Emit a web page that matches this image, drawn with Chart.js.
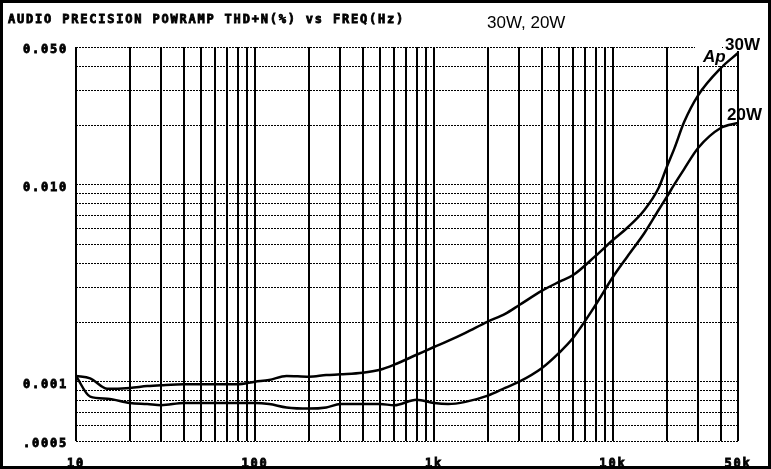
<!DOCTYPE html>
<html>
<head>
<meta charset="utf-8">
<script src="https://cdn.jsdelivr.net/npm/chart.js@4.4.1/dist/chart.umd.min.js"></script>
<style>
  html, body { margin: 0; padding: 0; background: #fff; }
</style>
</head>
<body>
<canvas id="thd" width="771" height="469"></canvas>
<script>
// frequency points (Hz)
const freqs = [10, 12, 15, 20, 25, 30, 40, 50, 60, 80, 100, 120, 150, 200, 250, 300, 400, 500, 600, 800,
  1000, 1200, 1500, 2000, 2500, 3000, 4000, 5000, 6000, 8000, 10000, 12000, 15000, 18000, 20000, 22000,
  25000, 30000, 40000, 50000];
// THD+N (%) at 30W
const thd30W = [0.00107, 0.00104, 0.00092, 0.00093, 0.00095, 0.00096, 0.00097, 0.00097, 0.00097, 0.00097,
  0.00100, 0.00102, 0.00107, 0.00106, 0.00108, 0.00109, 0.00111, 0.00115, 0.00122, 0.00137,
  0.00150, 0.00161, 0.00177, 0.00202, 0.00221, 0.00245, 0.00289, 0.00321, 0.00348, 0.00435,
  0.00524, 0.00603, 0.00744, 0.00962, 0.0123, 0.0152, 0.0208, 0.0285, 0.0390, 0.0466];
// THD+N (%) at 20W
const thd20W = [0.00107, 0.00084, 0.00082, 0.00078, 0.00077, 0.00076, 0.00078, 0.00078, 0.00078, 0.00078,
  0.00078, 0.00077, 0.00074, 0.00073, 0.00074, 0.00077, 0.00077, 0.00077, 0.00076, 0.00081,
  0.00078, 0.00077, 0.00079, 0.00085, 0.00093, 0.00100, 0.00117, 0.00140, 0.00167, 0.00245,
  0.00340, 0.00430, 0.00569, 0.00744, 0.00867, 0.0100, 0.0120, 0.0154, 0.0194, 0.0206];

// labelled ticks
const xLabelValues = [10, 100, 1000, 10000, 50000];
const xLabelTexts = ['10', '100', '1k', '10k', '50k'];
const yLabelValues = [0.05, 0.01, 0.001, 0.0005];
const yLabelTexts = ['0.050', '0.010', '0.001', '.0005'];

// grid lines: 1..9 in each decade
let xGrid = [];
[10, 100, 1000].forEach(d => { for (let m = 1; m < 10; m++) xGrid.push(d * m); });
xGrid = xGrid.concat([10000, 20000, 30000, 40000, 50000]);
let yGrid = [];
[0.0001, 0.001].forEach(d => { for (let m = 1; m < 10; m++) yGrid.push(d * m); });
yGrid = yGrid.filter(v => v >= 0.0005 - 1e-9).concat([0.01, 0.02, 0.03, 0.04, 0.05]);

function pick(values, texts, v) {
  const i = values.findIndex(a => Math.abs(a - v) / a < 1e-6);
  return i >= 0 ? texts[i] : '';
}

const monoFont = { family: 'DejaVu Sans Mono', size: 12, weight: 'bold' };

const decor = {
  id: 'decor',
  beforeDraw(chart) {
    const c = chart.ctx;
    c.save();
    c.fillStyle = '#fff';
    c.fillRect(0, 0, chart.width, chart.height);
    c.restore();
    c.letterSpacing = '1.8px';
  },
  afterDraw(chart) {
    const c = chart.ctx;
    c.save();
    c.fillStyle = '#000';
    c.strokeStyle = '#000';
    c.textBaseline = 'alphabetic';
    c.textAlign = 'left';
    c.letterSpacing = '1.8px';
    c.font = 'bold 12px "DejaVu Sans Mono"';
    c.lineWidth = 0.8;
    const title = 'AUDIO PRECISION POWRAMP THD+N(%) vs FREQ(Hz)';
    c.fillText(title, 8, 23);
    c.strokeText(title, 8, 23);
    c.letterSpacing = '0px';
    c.font = '17px "Liberation Sans"';
    c.fillText('30W, 20W', 487, 28);

    // curve labels and the Ap mark
    c.fillStyle = '#fff';
    c.fillRect(695, 47, 27, 19);
    c.fillRect(724, 33, 44, 18);
    c.fillStyle = '#000';
    c.font = 'italic bold 17px "Liberation Sans"';
    c.fillText('Ap', 703, 62);
    c.font = 'bold 17px "Liberation Sans"';
    c.fillText('30W', 725, 50);
    c.fillText('20W', 727, 120);

    // outer frame
    c.lineWidth = 3;
    c.strokeRect(1.5, 1.5, chart.width - 3, chart.height - 3);
    c.restore();
  }
};

new Chart(document.getElementById('thd'), {
  type: 'line',
  data: {
    datasets: [
      {
        label: '30W',
        data: freqs.map((f, i) => ({ x: f, y: thd30W[i] })),
        borderColor: '#000',
        borderWidth: 2.5,
        pointRadius: 0,
        cubicInterpolationMode: 'monotone',
        fill: false
      },
      {
        label: '20W',
        data: freqs.map((f, i) => ({ x: f, y: thd20W[i] })),
        borderColor: '#000',
        borderWidth: 2.5,
        pointRadius: 0,
        cubicInterpolationMode: 'monotone',
        fill: false
      }
    ]
  },
  options: {
    responsive: false,
    animation: false,
    devicePixelRatio: 1,
    layout: { padding: { left: 0, right: 33, top: 47, bottom: 0 } },
    plugins: {
      legend: { display: false },
      tooltip: { enabled: false }
    },
    scales: {
      x: {
        type: 'logarithmic',
        min: 10,
        max: 50000,
        afterBuildTicks: s => { s.ticks = xGrid.map(v => ({ value: v })); },
        afterFit: s => { s.height = 28; },
        grid: { color: '#000', lineWidth: 2, drawTicks: false },
        border: { display: false },
        ticks: {
          autoSkip: false,
          maxRotation: 0,
          padding: 16,
          color: '#000',
          textStrokeColor: '#000',
          textStrokeWidth: 0.8,
          font: monoFont,
          callback: v => pick(xLabelValues, xLabelTexts, v)
        }
      },
      y: {
        type: 'logarithmic',
        min: 0.0005,
        max: 0.05,
        afterBuildTicks: s => { s.ticks = yGrid.map(v => ({ value: v })); },
        afterFit: s => { s.width = 76; },
        grid: { color: '#000', lineWidth: 1, drawTicks: false },
        border: { display: false, dash: [2, 1] },
        ticks: {
          autoSkip: false,
          padding: 8,
          labelOffset: 3,
          color: '#000',
          textStrokeColor: '#000',
          textStrokeWidth: 0.8,
          font: monoFont,
          callback: v => pick(yLabelValues, yLabelTexts, v)
        }
      }
    }
  },
  plugins: [decor]
});
</script>
</body>
</html>
